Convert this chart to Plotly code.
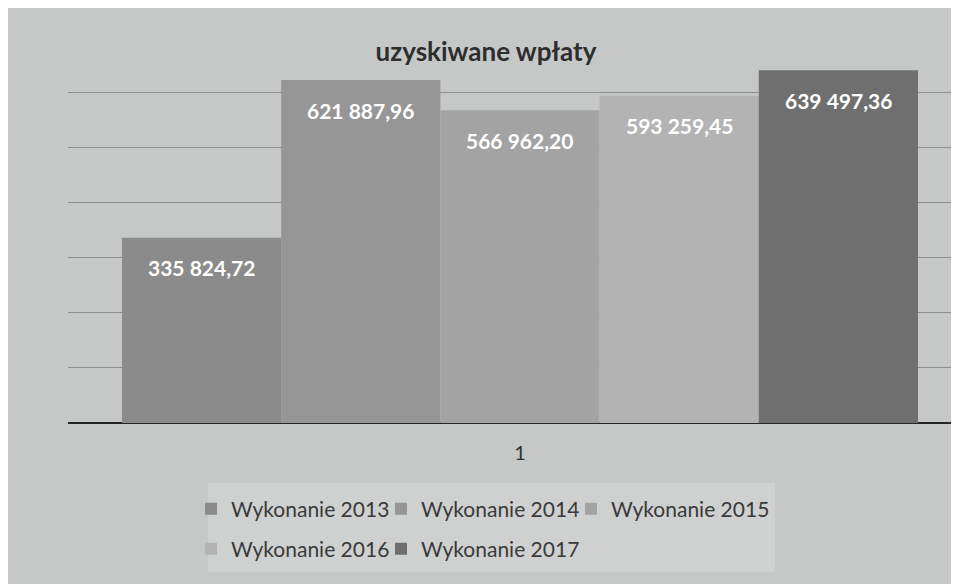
import plotly.graph_objects as go

categories = ["1"]
series_names = ["Wykonanie 2013", "Wykonanie 2014", "Wykonanie 2015", "Wykonanie 2016", "Wykonanie 2017"]
values_2013 = [335824.72]
values_2014 = [621887.96]
values_2015 = [566962.20]
values_2016 = [593259.45]
values_2017 = [639497.36]
all_values = [values_2013, values_2014, values_2015, values_2016, values_2017]

colors = ["#8b8b8b", "#969696", "#a3a3a3", "#b3b3b3", "#6f6f6f"]
legend_ids = ["legend", "legend2", "legend3", "legend4", "legend5"]
# legend entry anchor points (container pixels)
legend_pos = [(183, 501), (373, 501), (563, 501), (183, 541), (373, 541)]

FONT = "Lato"
W, H = 959, 584
M_L, M_R, M_T, M_B = 60, 0, 29, 169
X_RANGE = [-0.5, 0.4945]
BARGAP = 0.1194


def fmt(v):
    return f"{v:,.2f}".replace(",", " ").replace(".", ",")


fig = go.Figure()
for name, vals, col, lg in zip(series_names, all_values, colors, legend_ids):
    fig.add_trace(go.Bar(
        x=categories, y=vals, name=name,
        marker=dict(color=col, line=dict(width=0)),
        legend=lg,
        hovertemplate="%{y:,.2f}<extra>" + name + "</extra>",
    ))

# data labels, placed just below each bar top
plot_w = W - M_L - M_R
bar_px = plot_w / (X_RANGE[1] - X_RANGE[0]) * (1 - BARGAP) / len(all_values)
n = len(all_values)
for i, vals in enumerate(all_values):
    for ci, v in enumerate(vals):
        fig.add_annotation(
            x=ci, y=v, xref="x", yref="y",
            text="<b>" + fmt(v) + "</b>",
            showarrow=False,
            xshift=(i - (n - 1) / 2) * bar_px,
            yshift=-30,
            font=dict(family=FONT, size=21, color="white"),
            xanchor="center", yanchor="middle",
        )

legend_common = dict(
    orientation="h",
    xref="container", yref="container",
    xanchor="left", yanchor="middle",
    font=dict(family=FONT, size=21, color="#3a3a3a"),
    bgcolor="rgba(0,0,0,0)",
    itemclick=False,
)

legends = {}
for lg, (px, py) in zip(legend_ids, legend_pos):
    legends[lg] = dict(legend_common, x=px / W, y=1 - py / H)

# lighter legend panel
fig.add_shape(
    type="rect", xref="paper", yref="paper",
    x0=0.1557, x1=0.7864, y0=-0.386, y1=-0.1554,
    fillcolor="#cfd0d0", line=dict(width=0), layer="below",
)

fig.update_layout(
    width=W, height=H,
    margin=dict(l=M_L, r=M_R, t=M_T, b=M_B),
    paper_bgcolor="#c6c8c8",
    plot_bgcolor="#c6c8c8",
    barmode="group",
    bargap=BARGAP,
    bargroupgap=0,
    separators=", ",
    title=dict(
        text="<b>uzyskiwane wpłaty</b>",
        x=478/959, xanchor="center",
        y=1-44/584, yanchor="middle",
        font=dict(family=FONT, size=26, color="#2e2e2e"),
    ),
    xaxis=dict(
        type="category",
        range=X_RANGE,
        showgrid=False,
        showline=False,
        ticks="",
        ticklabelstandoff=16,
        tickfont=dict(family=FONT, size=20, color="#333333"),
    ),
    yaxis=dict(
        range=[0, 700000],
        dtick=100000,
        showticklabels=False,
        showgrid=True,
        gridcolor="#8e8e8e",
        gridwidth=1,
        zeroline=True,
        zerolinecolor="#262626",
        zerolinewidth=2,
        showline=False,
    ),
    showlegend=True,
    **legends,
)

fig.write_html("out.html")
